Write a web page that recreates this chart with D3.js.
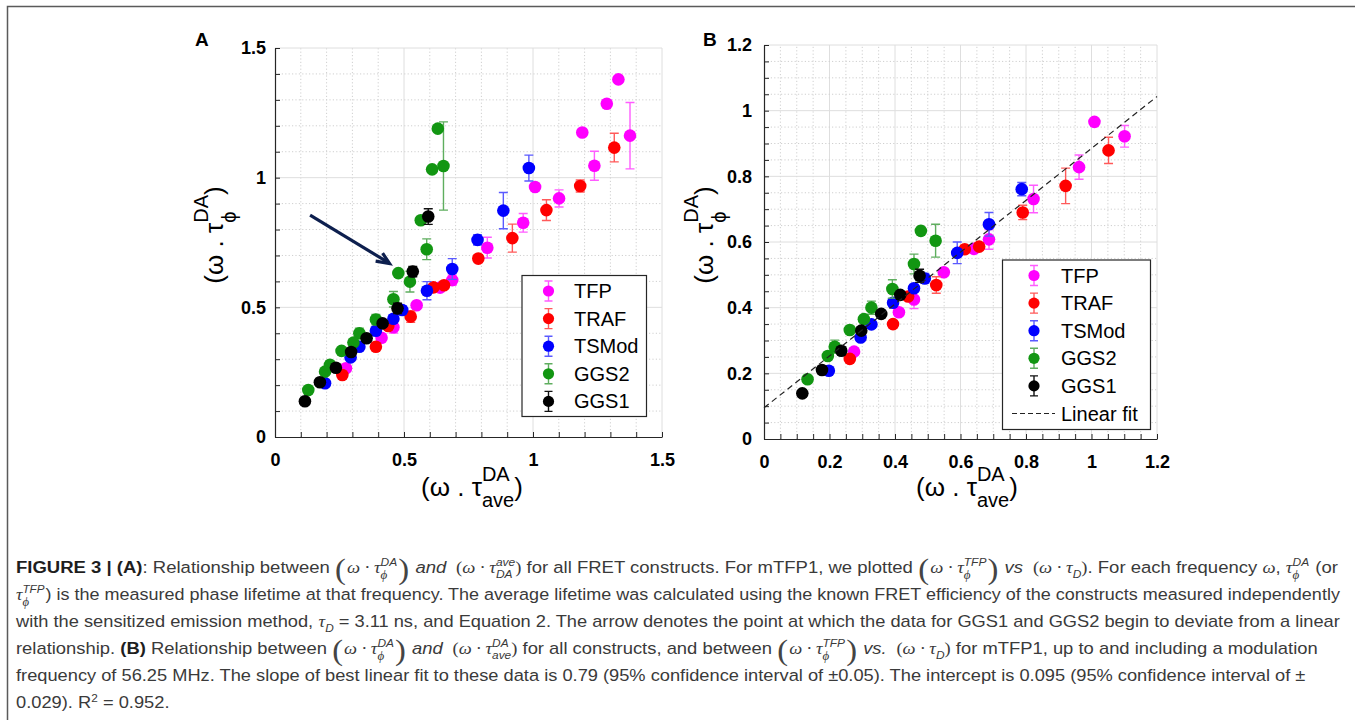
<!DOCTYPE html>
<html><head><meta charset="utf-8">
<script src="https://cdn.jsdelivr.net/npm/d3@7"></script>
<style>body{margin:0;background:#fff} svg{display:block} text{white-space:pre}</style>
</head><body>
<svg id="c" width="1355" height="720"></svg>
<script>
// ---------------- DATA ----------------
const seriesNames = ["TFP", "TRAF", "TSMod", "GGS2", "GGS1"];

// Panel A
const tfpA_x  = [1.331,1.286,1.191,1.376,1.238,1.101,1.008,0.962,0.823,0.687,0.640,0.549,0.459,0.413,0.275];
const tfpA_y  = [1.379,1.285,1.174,1.162,1.046,0.920,0.964,0.826,0.730,0.605,0.576,0.508,0.423,0.383,0.265];
const tfpA_e  = [0,0,0,0.128,0.056,0.033,0,0.036,0.040,0.020,0.015,0.010,0.022,0.010,0.010];
const trafA_x = [1.315,1.183,1.052,0.920,0.788,0.655,0.614,0.526,0.439,0.391,0.261];
const trafA_y = [1.116,0.968,0.875,0.767,0.688,0.585,0.577,0.464,0.428,0.348,0.239];
const trafA_e = [0.055,0.023,0.040,0.054,0.015,0.010,0.010,0.022,0.010,0.010,0.010];
const tsmA_x  = [0.984,0.885,0.785,0.687,0.589,0.493,0.459,0.391,0.327,0.293,0.194];
const tsmA_y  = [1.037,0.873,0.760,0.648,0.564,0.490,0.456,0.410,0.348,0.307,0.207];
const tsmA_e  = [0.050,0.070,0.020,0.040,0.035,0.015,0.010,0.010,0.010,0.010,0.010];
const ggs2A_x = [0.631,0.653,0.609,0.565,0.588,0.478,0.523,0.459,0.391,0.327,0.304,0.258,0.213,0.194,0.129];
const ggs2A_y = [1.189,1.045,1.032,0.836,0.724,0.632,0.599,0.531,0.453,0.400,0.364,0.332,0.278,0.252,0.181];
const ggs2A_e = [0,0.170,0,0,0.040,0,0.040,0.030,0.020,0.020,0.010,0.010,0.015,0.010,0.010];
const ggs1A_x = [0.594,0.534,0.475,0.417,0.355,0.295,0.236,0.174,0.116];
const ggs1A_y = [0.850,0.638,0.496,0.438,0.381,0.328,0.267,0.211,0.138];
const ggs1A_e = [0.030,0.020,0.020,0.010,0.010,0.010,0.010,0.010,0.010];

// Panel B
const tfpB_x  = [1.009,1.101,0.962,0.823,0.687,0.641,0.549,0.458,0.412,0.275];
const tfpB_y  = [0.966,0.922,0.828,0.731,0.608,0.579,0.508,0.425,0.386,0.266];
const tfpB_e  = [0,0.033,0.037,0.042,0.030,0.010,0.010,0.028,0.010,0.010];
const trafB_x = [1.052,0.921,0.790,0.657,0.613,0.526,0.440,0.394,0.262];
const trafB_y = [0.879,0.771,0.690,0.586,0.578,0.469,0.434,0.350,0.244];
const trafB_e = [0.040,0.054,0.022,0.010,0.010,0.025,0.010,0.010,0.010];
const tsmB_x  = [0.787,0.687,0.590,0.491,0.458,0.394,0.328,0.295,0.198];
const tsmB_y  = [0.761,0.654,0.567,0.489,0.459,0.415,0.349,0.309,0.208];
const tsmB_e  = [0.020,0.036,0.033,0.015,0.010,0.010,0.010,0.010,0.010];
const ggs2B_x = [0.479,0.524,0.458,0.392,0.328,0.305,0.262,0.216,0.195,0.133];
const ggs2B_y = [0.634,0.604,0.533,0.457,0.400,0.365,0.332,0.281,0.253,0.182];
const ggs2B_e = [0,0.050,0.030,0.028,0.020,0.010,0.010,0.020,0.010,0.010];
const ggs1B_x = [0.475,0.416,0.358,0.297,0.236,0.177,0.117];
const ggs1B_y = [0.497,0.439,0.381,0.330,0.269,0.210,0.139];
const ggs1B_e = [0.020,0.010,0.010,0.010,0.010,0.010,0.010];

const fitSlope = 0.79, fitIntercept = 0.095;

const ticksA = [0, 0.5, 1, 1.5];
const ticksB = [0, 0.2, 0.4, 0.6, 0.8, 1, 1.2];

const colors   = ["#ff00ff", "#ff0000", "#0000ff", "#129612", "#000000"];
const errColors= ["#ff5cff", "#ff5a5a", "#5a5aff", "#5fae5f", "#111111"];

// ---------------- SETUP ----------------
const SANS = "'Liberation Sans', Arial, Helvetica, sans-serif";
const svg = d3.select("#c");
svg.append("rect").attr("width",1355).attr("height",720).attr("fill","#fff");
svg.append("path").attr("d","M7.5,720 V6.5 H1355").attr("fill","none")
   .attr("stroke","#5a5a5a").attr("stroke-width",1.5);

const zip = (xs, ys, es) => xs.map((x,i)=>({x, y: ys[i], e: es[i]}));

// rich text helper: items laid out left to right, measured
function rich(g, items, base) {
  let x = 0;
  const mk = (s, xx) => {
    const st = Object.assign({}, base, s.st || {});
    const t = g.append("text").attr("x", xx).attr("y", s.dy || 0)
      .attr("font-family", st.font).attr("font-size", st.size)
      .attr("font-weight", st.weight || "normal").attr("font-style", st.style || "normal")
      .attr("fill", st.fill || "#000").text(s.t);
    return t.node().getComputedTextLength();
  };
  items.forEach(it => {
    if (it.stack) {
      let w = 0;
      it.stack.forEach(s => { w = Math.max(w, mk(s, x)); });
      x += w + (it.gap || 0);
    } else {
      x += mk(it, x) + (it.gap || 0);
    }
  });
  return x;
}

function panel(cfg) {
  const x = d3.scaleLinear().domain([0, cfg.max]).range([cfg.x0, cfg.x1]);
  const y = d3.scaleLinear().domain([0, cfg.max]).range([cfg.y0, cfg.y1]);
  const g = svg.append("g");
  const n = Math.round(cfg.max / cfg.minor);
  const minors = d3.range(0, n + 1).map(i => +(i * cfg.minor).toFixed(3));
  const isMajor = d => cfg.ticks.some(t => Math.abs(t - d) < 1e-6);

  // grid
  const grid = g.append("g");
  minors.filter(d => d > 0).forEach(d => {
    const maj = isMajor(d);
    grid.append("line").attr("x1", x(d)).attr("x2", x(d)).attr("y1", cfg.y0).attr("y2", cfg.y1)
      .attr("stroke", maj ? "#dedede" : "#cfcfcf").attr("stroke-width", 1)
      .attr("stroke-dasharray", maj ? null : "1.2,2.2");
    grid.append("line").attr("y1", y(d)).attr("y2", y(d)).attr("x1", cfg.x0).attr("x2", cfg.x1)
      .attr("stroke", maj ? "#dedede" : "#cfcfcf").attr("stroke-width", 1)
      .attr("stroke-dasharray", maj ? null : "1.2,2.2");
  });

  const fmt = d3.format("~g");
  const styleAxis = a => {
    a.select(".domain").attr("stroke", "#262626").attr("stroke-width", 1.2);
    a.selectAll(".tick line").attr("stroke", "#262626");
    a.selectAll("text").attr("font-family", SANS).attr("font-size", 18)
      .attr("font-weight", "bold").attr("fill", "#000");
  };
  g.append("g").attr("transform", `translate(0,${cfg.y0})`)
    .call(d3.axisBottom(x).tickValues(minors).tickSizeInner(-5).tickSizeOuter(0)
      .tickPadding(cfg.xpad).tickFormat(d => isMajor(d) ? fmt(d) : ""))
    .call(styleAxis);
  g.append("g").attr("transform", `translate(${cfg.x0},0)`)
    .call(d3.axisLeft(y).tickValues(minors).tickSizeInner(-5).tickSizeOuter(0)
      .tickPadding(cfg.ypad).tickFormat(d => isMajor(d) ? fmt(d) : ""))
    .call(styleAxis);

  // series
  cfg.series.forEach((s, si) => {
    const sg = g.append("g");
    const data = s.filter(d => d.e > 0);
    sg.selectAll(".eb").data(data).enter().append("path")
      .attr("d", d => {
        const cx = x(d.x), ya = y(d.y + d.e), yb = y(d.y - d.e);
        return `M${cx},${ya}V${yb}M${cx-4.5},${ya}H${cx+4.5}M${cx-4.5},${yb}H${cx+4.5}`;
      })
      .attr("stroke", errColors[si]).attr("stroke-width", 1.4).attr("fill", "none");
    sg.selectAll("circle").data(s).enter().append("circle")
      .attr("cx", d => x(d.x)).attr("cy", d => y(d.y)).attr("r", 6.3)
      .attr("fill", colors[si]);
  });

  if (cfg.fit) {
    g.append("line")
      .attr("x1", x(0)).attr("y1", y(fitIntercept))
      .attr("x2", x(cfg.max)).attr("y2", y(fitIntercept + fitSlope * cfg.max))
      .attr("stroke", "#222").attr("stroke-width", 1.2).attr("stroke-dasharray", "6,4");
  }

  // legend
  const L = cfg.legend;
  const lg = g.append("g");
  lg.append("rect").attr("x", L.x).attr("y", L.y).attr("width", L.w).attr("height", L.h)
    .attr("fill", "#fff").attr("stroke", "#262626").attr("stroke-width", 1.2);
  seriesNames.forEach((nm, i) => {
    const yy = L.y + L.first + i * L.step;
    lg.append("path")
      .attr("d", `M${L.mx},${yy-10}V${yy+10}M${L.mx-4},${yy-10}H${L.mx+4}M${L.mx-4},${yy+10}H${L.mx+4}`)
      .attr("stroke", errColors[i]).attr("stroke-width", 1.4).attr("fill", "none");
    lg.append("circle").attr("cx", L.mx).attr("cy", yy).attr("r", 5.6).attr("fill", colors[i]);
    lg.append("text").attr("x", L.tx).attr("y", yy + 7).attr("font-family", SANS)
      .attr("font-size", 20).attr("fill", "#000").text(nm);
  });
  if (cfg.fit) {
    const yy = L.y + L.first + 5 * L.step;
    lg.append("line").attr("x1", L.dx0).attr("x2", L.dx1).attr("y1", yy).attr("y2", yy)
      .attr("stroke", "#222").attr("stroke-width", 1.2).attr("stroke-dasharray", "5,3");
    lg.append("text").attr("x", L.tx).attr("y", yy + 7).attr("font-family", SANS)
      .attr("font-size", 20).attr("fill", "#000").text("Linear fit");
  }

  // panel label
  g.append("text").attr("x", cfg.lab[0]).attr("y", cfg.lab[1]).attr("font-family", SANS)
    .attr("font-size", 19).attr("font-weight", "bold").text(cfg.label);

  // x title
  const base = {font: SANS, size: 26, fill: "#000"};
  const xt = g.append("g").attr("transform", `translate(${cfg.xt[0]},${cfg.xt[1]})`);
  rich(xt, [{t: "(ω . τ"}, {stack: [{t: "DA", dy: -15, st: {size: 20}}, {t: "ave", dy: 11, st: {size: 20}}]}, {t: ")"}], base);
  // y title
  const yt = g.append("g").attr("transform", `translate(${cfg.yt[0]},${cfg.yt[1]}) rotate(-90)`);
  const w = rich(yt, [{t: "(ω . τ"}, {stack: [{t: "DA", dy: -15, st: {size: 20}}, {t: "ϕ", dy: 13, st: {size: 20}}]}, {t: ")"}], base);
  yt.attr("transform", `translate(${cfg.yt[0]},${cfg.yt[1] + w/2}) rotate(-90)`);
  return {x, y, g};
}

const A = panel({
  max: 1.5, minor: 0.1, ticks: ticksA, x0: 275, x1: 662, y0: 437, y1: 48, xpad: 16, ypad: 9,
  series: [zip(tfpA_x,tfpA_y,tfpA_e), zip(trafA_x,trafA_y,trafA_e), zip(tsmA_x,tsmA_y,tsmA_e),
           zip(ggs2A_x,ggs2A_y,ggs2A_e), zip(ggs1A_x,ggs1A_y,ggs1A_e)],
  legend: {x: 522, y: 275.5, w: 124.5, h: 141, first: 15.5, step: 27.6, mx: 548.5, tx: 574},
  label: "A", lab: [195, 46], xt: [421, 496], yt: [223, 235], fit: false
});

// arrow in panel A
svg.append("path")
  .attr("d", `M${A.x(0.136)},${A.y(0.856)} L${A.x(0.44)},${A.y(0.672)}`)
  .attr("stroke", "#0d1f4e").attr("stroke-width", 3.2).attr("fill", "none");
svg.append("path")
  .attr("d", `M${A.x(0.39)},${A.y(0.678)} L${A.x(0.444)},${A.y(0.669)} L${A.x(0.417)},${A.y(0.709)}`)
  .attr("stroke", "#0d1f4e").attr("stroke-width", 3.2).attr("fill", "none").attr("stroke-linejoin", "miter");

const B = panel({
  max: 1.2, minor: 0.05, ticks: ticksB, x0: 764, x1: 1157, y0: 439, y1: 45, xpad: 16, ypad: 12,
  series: [zip(tfpB_x,tfpB_y,tfpB_e), zip(trafB_x,trafB_y,trafB_e), zip(tsmB_x,tsmB_y,tsmB_e),
           zip(ggs2B_x,ggs2B_y,ggs2B_e), zip(ggs1B_x,ggs1B_y,ggs1B_e)],
  legend: {x: 1002.5, y: 260, w: 148, h: 169.5, first: 15.5, step: 27.6, mx: 1034, tx: 1061, dx0: 1012, dx1: 1055},
  label: "B", lab: [703, 46], xt: [916, 496], yt: [713, 235], fit: true
});

// ---------------- CAPTION ----------------
const CF = "'Liberation Sans Narrow', 'Liberation Sans', 'DejaVu Sans Condensed', sans-serif";
const MF = "'Liberation Serif', 'DejaVu Serif', serif";
const Bd = {weight: "bold", fill: "#1e1e1e"}, I = {style: "italic"};
const M = {font: MF, style: "italic", size: 17};
const SUP = {size: 11, style: "italic"};
const PHI = {font: MF, size: 12, style: "italic"};
const P = {font: MF, size: 30, weight: "normal", fill: "#444"};
const SP = {font: MF, size: 17};

const phiStack = top => ({stack: [{t: top, dy: -7, st: SUP}, {t: "ϕ", dy: 6, st: PHI}], gap: 1});
const bigPar = c => ({t: c, dy: 6, st: P, gap: 1});

const capLines = [
  {y: 573, w: 1322, items: [
    {t: "FIGURE 3 | (A)", st: Bd}, {t: ": Relationship between "}, bigPar("("), {t: "ω · τ", st: M}, phiStack("DA"), bigPar(")"),
    {t: " and ", st: I}, {t: " (", st: SP}, {t: "ω · τ", st: M}, {stack: [{t: "ave", dy: -7, st: SUP}, {t: "DA", dy: 5, st: SUP}]}, {t: ")", st: SP},
    {t: " for all FRET constructs. For mTFP1, we plotted "}, bigPar("("), {t: "ω · τ", st: M}, phiStack("TFP"), bigPar(")"),
    {t: " vs ", st: I}, {t: " (", st: SP}, {t: "ω · τ", st: M}, {t: "D", dy: 5, st: SUP}, {t: ")", st: SP},
    {t: ". For each frequency "}, {t: "ω", st: M}, {t: ", "}, {t: "τ", st: M}, phiStack("DA"), {t: " (or"}
  ]},
  {y: 600, w: 1325, items: [
    {t: "τ", st: M}, phiStack("TFP"), {t: ") is the measured phase lifetime at that frequency. The average lifetime was calculated using the known FRET efficiency of the constructs measured independently"}
  ]},
  {y: 627, w: 1325, items: [
    {t: "with the sensitized emission method, "}, {t: "τ", st: M}, {t: "D", dy: 5, st: SUP}, {t: " = 3.11 ns, and Equation 2. The arrow denotes the point at which the data for GGS1 and GGS2 begin to deviate from a linear"}
  ]},
  {y: 654, w: 1302, items: [
    {t: "relationship. "}, {t: "(B)", st: Bd}, {t: " Relationship between "}, bigPar("("), {t: "ω · τ", st: M}, phiStack("DA"), bigPar(")"),
    {t: " and ", st: I}, {t: " (", st: SP}, {t: "ω · τ", st: M}, {stack: [{t: "DA", dy: -7, st: SUP}, {t: "ave", dy: 5, st: SUP}]}, {t: ")", st: SP},
    {t: " for all constructs, and between "}, bigPar("("), {t: "ω · τ", st: M}, phiStack("TFP"), bigPar(")"),
    {t: " vs. ", st: I}, {t: " (", st: SP}, {t: "ω · τ", st: M}, {t: "D", dy: 5, st: SUP}, {t: ")", st: SP},
    {t: " for mTFP1, up to and including a modulation"}
  ]},
  {y: 681, w: 1291, items: [
    {t: "frequency of 56.25 MHz. The slope of best linear fit to these data is 0.79 (95% confidence interval of ±0.05). The intercept is 0.095 (95% confidence interval of ±"}
  ]},
  {y: 708, w: null, items: [
    {t: "0.029). R"}, {t: "2", dy: -6, st: {size: 11}}, {t: " = 0.952."}
  ]}
];

const capBase = {font: CF, size: 17, fill: "#3a3a3a"};
let kSum = 0, kN = 0;
const built = capLines.map(L => {
  const g = svg.append("g");
  const inner = g.append("g");
  const w = rich(inner, L.items, capBase);
  if (L.w) { kSum += L.w / w; kN++; }
  return {g, L, w};
});
const kAvg = kSum / kN;
built.forEach(({g, L, w}) => {
  const k = L.w ? L.w / w : kAvg;
  g.attr("transform", `translate(16,${L.y}) scale(${k},1)`);
});
</script>
</body></html>
